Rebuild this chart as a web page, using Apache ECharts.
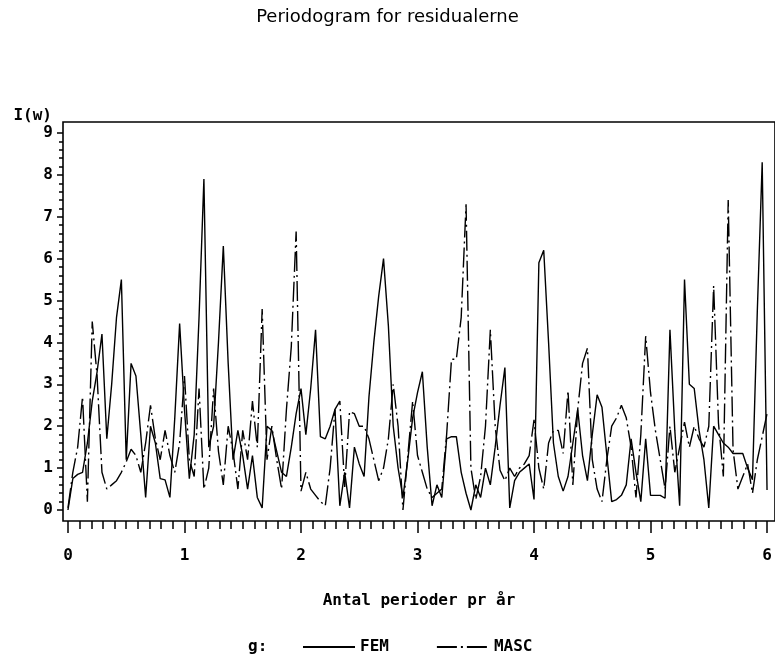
<!DOCTYPE html>
<html>
<head>
<meta charset="utf-8">
<script src="https://cdn.jsdelivr.net/npm/echarts@6/dist/echarts.min.js"></script>
<style>
html,body{margin:0;padding:0;background:#fff;}
#c{width:775px;height:662px;}
</style>
</head>
<body>
<div id="c"></div>
<script>
// Frequencies: j/24 cycles per year, j = 0..144 (0 to 6)
const freqStep = 1 / 24;
const xTickValues = [0, 1, 2, 3, 4, 5, 6];
const xTickLabels = ['0', '1', '2', '3', '4', '5', '6'];
const yTickValues = [0, 1, 2, 3, 4, 5, 6, 7, 8, 9];
const yTickLabels = ['0', '1', '2', '3', '4', '5', '6', '7', '8', '9'];
const seriesNames = ['FEM', 'MASC'];

const femValues = [
  0.0, 0.75, 0.85, 0.9, 1.6, 2.6, 3.3, 4.2, 1.7, 3.0,
  4.6, 5.5, 1.2, 3.5, 3.2, 1.8, 0.3, 2.0, 1.6, 0.75,
  0.72, 0.3, 2.2, 4.45, 2.4, 0.75, 1.8, 4.6, 7.9, 1.5,
  2.0, 4.0, 6.3, 3.5, 1.2, 1.9, 1.3, 0.5, 1.3, 0.3,
  0.05, 2.0, 1.9, 1.4, 0.9, 0.8, 1.5, 2.3, 2.9, 1.8,
  2.9, 4.3, 1.75, 1.7, 2.0, 2.4, 0.1, 0.9, 0.05, 1.5,
  1.1, 0.8, 2.7, 4.0, 5.1, 6.0, 4.4, 2.0, 1.0, 0.3,
  1.2, 2.2, 2.8, 3.3, 1.5, 0.1, 0.6, 0.3, 1.7, 1.75,
  1.75, 0.9, 0.4, 0.0, 0.6, 0.3, 1.0, 0.6, 1.5, 2.5,
  3.4, 0.05, 0.7, 0.9, 1.0, 1.1, 0.25, 5.9, 6.2, 4.0,
  1.6, 0.8, 0.45, 0.8, 1.6, 2.4, 1.3, 0.7, 1.8, 2.75,
  2.45, 1.3, 0.2, 0.25, 0.35, 0.6, 1.7, 0.9, 0.2, 1.7,
  0.35, 0.35, 0.35, 0.28, 4.3, 1.9, 0.1, 5.5, 3.0, 2.9,
  1.9, 1.2, 0.05, 2.0, 1.8, 1.6, 1.5, 1.35, 1.35, 1.35,
  1.0, 0.72, 4.77, 8.3, 0.48
];

const mascValues = [
  0.05, 0.9, 1.5, 2.7, 0.2, 4.5, 3.2, 0.9, 0.5, 0.6,
  0.7, 0.9, 1.15, 1.45, 1.3, 0.9, 1.6, 2.5, 1.7, 1.2,
  1.9, 1.3, 0.9, 1.6, 3.2, 1.2, 0.8, 2.9, 0.5, 1.0,
  2.9, 1.4, 0.6, 2.0, 1.4, 0.5, 1.9, 1.2, 2.6, 1.5,
  4.8, 1.2, 2.0, 1.2, 0.5, 2.4, 3.9, 6.65, 0.45, 0.9,
  0.5, 0.35, 0.2, 0.1, 1.0, 2.4, 2.6, 0.55, 2.35, 2.3,
  2.0, 2.0, 1.7, 1.2, 0.7, 1.0, 1.7, 3.0, 2.0, 0.0,
  1.3, 2.6, 1.3, 0.9, 0.5, 0.3, 0.4, 0.5, 1.8, 3.6,
  3.6, 4.6, 7.3, 1.0, 0.25, 0.8, 2.0, 4.3, 2.0, 0.95,
  0.7, 1.0, 0.8, 1.0, 1.1, 1.3, 2.15, 1.0, 0.5, 1.6,
  1.9, 1.9, 1.35, 2.85, 0.6, 2.4, 3.5, 3.86, 1.2, 0.5,
  0.2, 1.2, 2.0, 2.2, 2.5, 2.2, 1.5, 0.3, 1.8, 4.15,
  2.8, 1.9, 1.2, 0.5, 2.0, 0.9, 1.5, 2.1, 1.5, 2.0,
  1.7, 1.5, 2.0, 5.35, 2.07, 0.8, 7.4, 1.43, 0.5, 0.8,
  1.1, 0.4, 1.2, 1.75, 2.3
];

const toPairs = vals => vals.map((v, j) => [j * freqStep, v]);

// ---- layout (pixels) ----
const W = 775, H = 662;
const frameLeft = 63, frameTop = 122, frameBottom = 521, frameRight = 779;
const x0Px = 68, x6Px = 771;     // pixel of x=0 and x=6
const y0Px = 510, y9Px = 133;    // pixel of y=0 and y=9
const xUnit = (x6Px - x0Px) / 6;
const yUnit = (y0Px - y9Px) / 9;
const xMin = -(x0Px - frameLeft) / xUnit;
const xMax = 6 + (frameRight - x6Px) / xUnit;
const yMin = -(frameBottom - y0Px) / yUnit;
const yMax = 9 + (y9Px - frameTop) / yUnit;

// minor tick positions (every 0.1 on x, every 0.2 on y)
const xMinor = [];
for (let i = 0; i <= 60; i++) if (i % 10 !== 0) xMinor.push(i / 10);
const yMinor = [];
for (let i = 0; i <= 45; i++) if (i % 5 !== 0) yMinor.push(i / 5);

const monoFont = '"DejaVu Sans Mono", "Liberation Mono", monospace';
const labelStyle = { fontFamily: monoFont, fontWeight: 'bold', fontSize: 16, color: '#000' };
const hiddenLine = { show: false, onZero: false };

const chart = echarts.init(document.getElementById('c'), null, { renderer: 'canvas' });

chart.setOption({
  backgroundColor: '#ffffff',
  animation: false,
  title: {
    text: 'Periodogram for residualerne',
    left: 'center',
    top: 3,
    textStyle: {
      fontFamily: '"DejaVu Sans", sans-serif',
      fontWeight: 'normal',
      fontSize: 18,
      color: '#000'
    }
  },
  grid: {
    left: frameLeft, top: frameTop,
    right: W - frameRight, bottom: H - frameBottom,
    show: true, borderColor: '#000', borderWidth: 1.6, backgroundColor: 'transparent'
  },
  xAxis: [
    {
      type: 'value', min: xMin, max: xMax, position: 'bottom',
      name: 'Antal perioder pr år',
      nameLocation: 'middle',
      nameGap: 72,
      nameTextStyle: Object.assign({}, labelStyle),
      axisLine: hiddenLine,
      axisTick: { show: true, inside: false, length: 12, customValues: xTickValues, lineStyle: { color: '#000', width: 1.5 } },
      splitLine: { show: false },
      axisLabel: {
        margin: 27, customValues: xTickValues,
        fontFamily: monoFont, fontWeight: 'bold', fontSize: 16, color: '#000',
        formatter: v => xTickLabels[xTickValues.indexOf(Math.round(v))]
      }
    },
    {
      type: 'value', min: xMin, max: xMax, position: 'bottom',
      axisLine: hiddenLine,
      axisTick: { show: true, inside: false, length: 8, customValues: xMinor, lineStyle: { color: '#000', width: 1.5 } },
      splitLine: { show: false },
      axisLabel: { show: false }
    }
  ],
  yAxis: [
    {
      type: 'value', min: yMin, max: yMax, position: 'left',
      name: 'I(w)',
      nameLocation: 'end',
      nameGap: 6,
      nameTextStyle: Object.assign({}, labelStyle, { align: 'right', verticalAlign: 'middle', padding: [0, 11, 0, 0] }),
      axisLine: hiddenLine,
      axisTick: { show: true, inside: false, length: 6, customValues: yTickValues, lineStyle: { color: '#000', width: 1.5 } },
      splitLine: { show: false },
      axisLabel: {
        margin: 10, customValues: yTickValues,
        fontFamily: monoFont, fontWeight: 'bold', fontSize: 16, color: '#000',
        formatter: v => yTickLabels[yTickValues.indexOf(Math.round(v))]
      }
    },
    {
      type: 'value', min: yMin, max: yMax, position: 'left',
      axisLine: hiddenLine,
      axisTick: { show: true, inside: false, length: 4, customValues: yMinor, lineStyle: { color: '#000', width: 1.5 } },
      splitLine: { show: false },
      axisLabel: { show: false }
    }
  ],
  legend: {
    data: seriesNames,
    left: 302,
    top: 639,
    padding: 0,
    itemWidth: 52,
    itemHeight: 14,
    itemGap: 47,
    itemStyle: { opacity: 0 },
    textStyle: { fontFamily: monoFont, fontWeight: 'bold', fontSize: 16, color: '#000' }
  },
  graphic: [
    {
      type: 'text',
      left: 248,
      top: 639,
      style: { text: 'g:', font: 'bold 16px ' + monoFont, fill: '#000' }
    }
  ],
  series: [
    {
      name: seriesNames[0],
      type: 'line',
      data: toPairs(femValues),
      symbol: 'none',
      lineStyle: { color: '#000', width: 1.4, type: 'solid' },
      itemStyle: { color: '#000' }
    },
    {
      name: seriesNames[1],
      type: 'line',
      data: toPairs(mascValues),
      symbol: 'none',
      lineStyle: { color: '#000', width: 1.4, type: [20, 4, 2, 4] },
      itemStyle: { color: '#000' }
    }
  ]
});
</script>
</body>
</html>
